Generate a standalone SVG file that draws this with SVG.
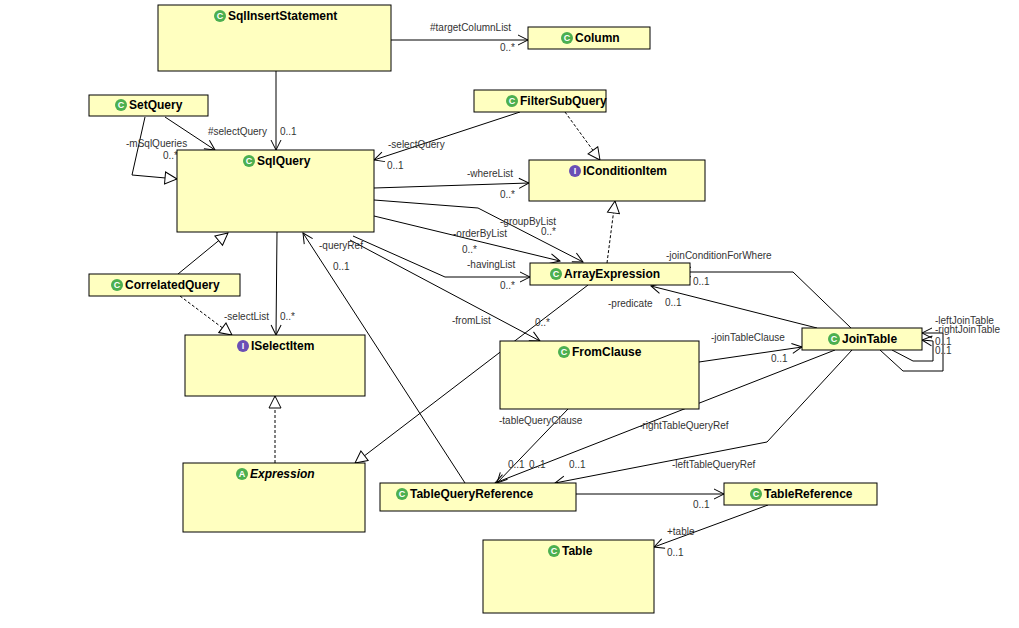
<svg xmlns="http://www.w3.org/2000/svg" width="1019" height="628" viewBox="0 0 1019 628">
<style>
.box{fill:#ffffc0;stroke:#000;stroke-width:1}
.t{font-family:"Liberation Sans",Arial,sans-serif;font-size:12px;font-weight:bold;fill:#000}
.l{font-family:"Liberation Sans",Arial,sans-serif;font-size:10px;fill:#333}
.ic{font-family:"Liberation Sans",Arial,sans-serif;font-size:9px;font-weight:bold;fill:#fff;text-anchor:middle}
.c{stroke:#000;stroke-width:1;fill:none}
.d{stroke:#000;stroke-width:1;fill:none;stroke-dasharray:3,2}
</style>
<defs>
<marker id="a" markerWidth="12" markerHeight="12" refX="11" refY="6" orient="auto" markerUnits="userSpaceOnUse"><path d="M1,1 L11,6 L1,11" fill="none" stroke="#000"/></marker>
<marker id="g" markerWidth="14" markerHeight="14" refX="13" refY="7" orient="auto" markerUnits="userSpaceOnUse"><path d="M1,1 L13,7 L1,13 Z" fill="#fff" stroke="#000"/></marker>
</defs>
<rect width="1019" height="628" fill="#fff"/>
<g id="connectors">
<line class="c" x1="391" y1="40" x2="528" y2="40" marker-end="url(#a)"/>
<line class="c" x1="276" y1="71" x2="276" y2="150" marker-end="url(#a)"/>
<line class="c" x1="165" y1="117" x2="215" y2="150" marker-end="url(#a)"/>
<polyline class="c" points="145,117 132,175 177,179" marker-end="url(#g)"/>
<line class="c" x1="520" y1="112" x2="374" y2="160" marker-end="url(#a)"/>
<line class="d" x1="565" y1="112" x2="600" y2="160" marker-end="url(#g)"/>
<line class="c" x1="374" y1="188" x2="529" y2="183" marker-end="url(#a)"/>
<polyline class="c" points="374,200 478,208 583,262" marker-end="url(#a)"/>
<line class="c" x1="374" y1="216" x2="560" y2="261" marker-end="url(#a)"/>
<polyline class="c" points="353,236 445,277 530,277" marker-end="url(#a)"/>
<line class="c" x1="350" y1="240" x2="540" y2="341" marker-end="url(#a)"/>
<line class="c" x1="465" y1="483" x2="303" y2="233" marker-end="url(#a)"/>
<line class="c" x1="277" y1="232" x2="276" y2="335" marker-end="url(#a)"/>
<line class="c" x1="178" y1="274" x2="228" y2="233" marker-end="url(#g)"/>
<line class="d" x1="180" y1="296" x2="232" y2="335" marker-end="url(#g)"/>
<line class="d" x1="607" y1="263" x2="615" y2="201" marker-end="url(#g)"/>
<line class="c" x1="588" y1="285" x2="355" y2="463" marker-end="url(#g)"/>
<line class="d" x1="275" y1="463" x2="275" y2="396" marker-end="url(#g)"/>
<polyline class="c" points="851,328 793,272 681,272" marker-end="url(#a)"/>
<line class="c" x1="817" y1="328" x2="651" y2="286" marker-end="url(#a)"/>
<line class="c" x1="699" y1="362" x2="802" y2="347" marker-end="url(#a)"/>
<line class="c" x1="835" y1="350" x2="495" y2="483" marker-end="url(#a)"/>
<polyline class="c" points="852,350 767,442 555,483" marker-end="url(#a)"/>
<line class="c" x1="568" y1="409" x2="497" y2="483" marker-end="url(#a)"/>
<polyline class="c" points="892,350 913,361 933,361 933,341 922,340" marker-end="url(#a)"/>
<polyline class="c" points="880,350 903,371 943,371 943,333 922,333" marker-end="url(#a)"/>
<line class="c" x1="576" y1="494" x2="724" y2="494" marker-end="url(#a)"/>
<line class="c" x1="768" y1="505" x2="654" y2="547" marker-end="url(#a)"/>
<g class="l">
<text x="430" y="31">#targetColumnList</text><text x="500" y="51">0..*</text>
<text x="208" y="135">#selectQuery</text><text x="280" y="135">0..1</text>
<text x="126" y="147">-mSqlQueries</text><text x="163" y="159">0..*</text>
<text x="388" y="148">-selectQuery</text><text x="387" y="169">0..1</text>
<text x="467" y="177">-whereList</text><text x="500" y="198">0..*</text>
<text x="500" y="225">-groupByList</text><text x="541" y="235">0..*</text>
<text x="453" y="237">-orderByList</text><text x="462" y="253">0..*</text>
<text x="467" y="268">-havingList</text><text x="500" y="289">0..*</text>
<text x="452" y="324">-fromList</text><text x="535" y="326">0..*</text>
<text x="319" y="249">-queryRef</text><text x="333" y="270">0..1</text>
<text x="224" y="320">-selectList</text><text x="280" y="320">0..*</text>
<text x="666" y="259">-joinConditionForWhere</text><text x="693" y="285">0..1</text>
<text x="608" y="307">-predicate</text><text x="665" y="306">0..1</text>
<text x="711" y="341">-joinTableClause</text><text x="771" y="362">0..1</text>
<text x="639" y="429">-rightTableQueryRef</text><text x="569" y="468">0..1</text>
<text x="672" y="468">-leftTableQueryRef</text>
<text x="499" y="424">-tableQueryClause</text><text x="508" y="468">0..1</text><text x="529" y="468">0..1</text>
<text x="935" y="324">-leftJoinTable</text><text x="935" y="333">-rightJoinTable</text>
<text x="935" y="345">0..1</text><text x="935" y="354">0..1</text>
<text x="693" y="508">0..1</text>
<text x="667" y="535">+table</text><text x="667" y="556">0..1</text>
</g>
</g>
<g id="SqlInsertStatement"><rect class="box" x="158" y="5" width="233" height="66"/><circle cx="220" cy="16" r="6" fill="#4caf50"/><text class="ic" x="220" y="19">C</text><text class="t" x="228" y="20">SqlInsertStatement</text></g>
<g id="Column"><rect class="box" x="528" y="27" width="122" height="22"/><circle cx="567" cy="38" r="6" fill="#4caf50"/><text class="ic" x="567" y="41">C</text><text class="t" x="575" y="42">Column</text></g>
<g id="SetQuery"><rect class="box" x="89" y="95" width="119" height="21"/><circle cx="121" cy="105" r="6" fill="#4caf50"/><text class="ic" x="121" y="108">C</text><text class="t" x="129" y="109">SetQuery</text></g>
<g id="FilterSubQuery"><rect class="box" x="474" y="90" width="132" height="22"/><circle cx="512" cy="101" r="6" fill="#4caf50"/><text class="ic" x="512" y="104">C</text><text class="t" x="520" y="105">FilterSubQuery</text></g>
<g id="SqlQuery"><rect class="box" x="177" y="150" width="197" height="82"/><circle cx="249" cy="161" r="6" fill="#4caf50"/><text class="ic" x="249" y="164">C</text><text class="t" x="257" y="165">SqlQuery</text></g>
<g id="IConditionItem"><rect class="box" x="529" y="160" width="176" height="41"/><circle cx="575" cy="171" r="6" fill="#6a4fb5"/><text class="ic" x="575" y="174">I</text><text class="t" x="583" y="175">IConditionItem</text></g>
<g id="ArrayExpression"><rect class="box" x="530" y="263" width="160" height="22"/><circle cx="556" cy="274" r="6" fill="#4caf50"/><text class="ic" x="556" y="277">C</text><text class="t" x="564" y="278">ArrayExpression</text></g>
<g id="CorrelatedQuery"><rect class="box" x="89" y="274" width="151" height="22"/><circle cx="117" cy="285" r="6" fill="#4caf50"/><text class="ic" x="117" y="288">C</text><text class="t" x="125" y="289">CorrelatedQuery</text></g>
<g id="ISelectItem"><rect class="box" x="185" y="335" width="180" height="61"/><circle cx="243" cy="346" r="6" fill="#6a4fb5"/><text class="ic" x="243" y="349">I</text><text class="t" x="251" y="350">ISelectItem</text></g>
<g id="FromClause"><rect class="box" x="500" y="341" width="199" height="68"/><circle cx="564" cy="352" r="6" fill="#4caf50"/><text class="ic" x="564" y="355">C</text><text class="t" x="572" y="356">FromClause</text></g>
<g id="JoinTable"><rect class="box" x="802" y="328" width="120" height="22"/><circle cx="834" cy="339" r="6" fill="#4caf50"/><text class="ic" x="834" y="342">C</text><text class="t" x="842" y="343">JoinTable</text></g>
<g id="Expression"><rect class="box" x="183" y="463" width="182" height="69"/><circle cx="242" cy="474" r="6" fill="#4caf50"/><text class="ic" x="242" y="477">A</text><text class="t" x="250" y="478" font-style="italic">Expression</text></g>
<g id="TableQueryReference"><rect class="box" x="380" y="483" width="196" height="28"/><circle cx="402" cy="494" r="6" fill="#4caf50"/><text class="ic" x="402" y="497">C</text><text class="t" x="410" y="498">TableQueryReference</text></g>
<g id="TableReference"><rect class="box" x="724" y="483" width="153" height="22"/><circle cx="756" cy="494" r="6" fill="#4caf50"/><text class="ic" x="756" y="497">C</text><text class="t" x="764" y="498">TableReference</text></g>
<g id="Table"><rect class="box" x="483" y="540" width="171" height="73"/><circle cx="554" cy="551" r="6" fill="#4caf50"/><text class="ic" x="554" y="554">C</text><text class="t" x="562" y="555">Table</text></g>
</svg>
